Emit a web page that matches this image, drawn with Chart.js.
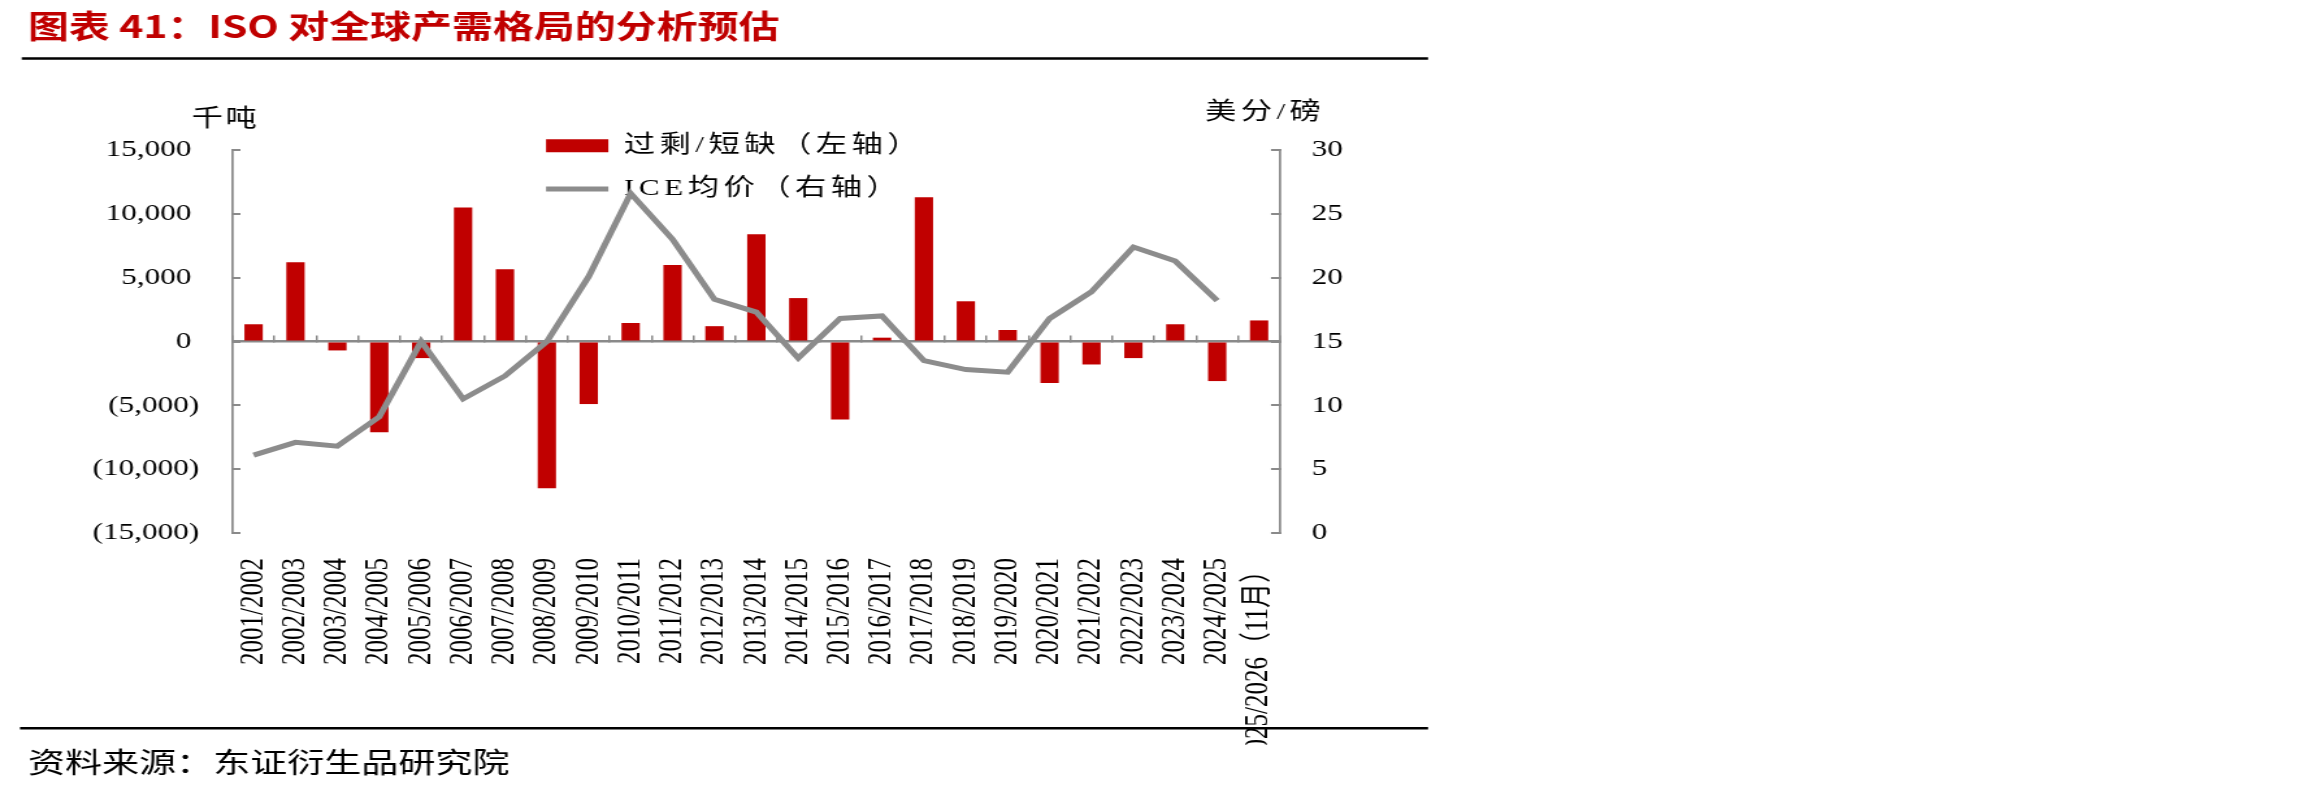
<!DOCTYPE html>
<html>
<head>
<meta charset="utf-8">
<script src="https://cdn.jsdelivr.net/npm/chart.js@4/dist/chart.umd.min.js"></script>
<style>
  body { margin: 0; background: #fff; }
  #chart { display: block; width: 2303px; height: 793px; }
</style>
</head>
<body>
<canvas id="chart" width="1772" height="793"></canvas>
<script>
// Data
const categories = [
  "2001/2002", "2002/2003", "2003/2004", "2004/2005", "2005/2006",
  "2006/2007", "2007/2008", "2008/2009", "2009/2010", "2010/2011",
  "2011/2012", "2012/2013", "2013/2014", "2014/2015", "2015/2016",
  "2016/2017", "2017/2018", "2018/2019", "2019/2020", "2020/2021",
  "2021/2022", "2022/2023", "2023/2024", "2024/2025", "2025/2026（11月）"
];
// 过剩/短缺, 千吨
const surplus = [
  1350, 6200, -700, -7100, -1300,
  10500, 5650, -11500, -4900, 1450,
  6000, 1200, 8400, 3400, -6100,
  300, 11300, 3150, 900, -3250,
  -1800, -1300, 1350, -3100, 1650
];
// ICE均价, 美分/磅
const icePrice = [
  6.1, 7.1, 6.8, 9.1, 15.0,
  10.5, 12.3, 15.0, 20.1, 26.6,
  23.0, 18.3, 17.3, 13.7, 16.8,
  17.0, 13.5, 12.8, 12.6, 16.8,
  18.9, 22.4, 21.3, 18.2, null
];
const leftRange = [-15000, 15000, 5000];
const rightRange = [0, 30, 5];

const RED = "#c00000";
const GREY = "#8c8c8c";
const AXIS = "#8a8a8a";

Chart.defaults.font.family = "'Liberation Serif', 'Noto Sans CJK SC', serif";
Chart.defaults.color = "#000";

// rules, unit labels, legend placement
const decor = {
  id: "decor",
  beforeDraw(chart) {
    const lg = chart.legend;
    lg.left = 400.8; lg.top = 114.4;
    lg.right = lg.left + 420; lg.bottom = lg.top + 300;
    if (!lg._spaced) {
      const drawLegend = lg.draw.bind(lg);
      lg.draw = function(area) {
        chart.ctx.save();
        chart.ctx.letterSpacing = "3.5px";
        drawLegend(area);
        chart.ctx.restore();
      };
      lg._spaced = true;
    }
  },
  afterDraw(chart) {
    const ctx = chart.ctx;
    ctx.save();
    ctx.strokeStyle = "#000";
    ctx.lineWidth = 2.5;
    ctx.beginPath();
    ctx.moveTo(16.7, 58.5); ctx.lineTo(1098.8, 58.5);
    ctx.moveTo(15.4, 728.3); ctx.lineTo(1098.8, 728.3);
    ctx.stroke();
    ctx.fillStyle = "#000";
    ctx.font = "24px 'Liberation Serif', 'Noto Sans CJK SC'";
    ctx.textBaseline = "middle";
    ctx.letterSpacing = "2px";
    ctx.fillText("千吨", 147.5, 120);
    ctx.letterSpacing = "3.5px";
    ctx.fillText("美分/磅", 927.2, 113);
    ctx.restore();
  }
};

const fmtLeft = function(v) {
  if (v < 0) return "(" + Math.abs(v).toLocaleString("en-US") + ")";
  return v.toLocaleString("en-US") + " ";
};

const chart = new Chart(document.getElementById("chart"), {
  type: "bar",
  data: {
    labels: categories,
    datasets: [{
      label: "过剩/短缺（左轴）",
      data: surplus,
      backgroundColor: RED,
      borderColor: RED,
      borderWidth: 0,
      barPercentage: 0.437,
      categoryPercentage: 1,
      xAxisID: "x",
      yAxisID: "y",
      order: 1
    }, {
      type: "line",
      label: "ICE均价（右轴）",
      data: icePrice,
      borderColor: GREY,
      backgroundColor: GREY,
      borderWidth: 5,
      pointRadius: 0,
      tension: 0,
      fill: false,
      xAxisID: "x",
      yAxisID: "y1",
      order: 0
    }]
  },
  options: {
    responsive: false,
    devicePixelRatio: 1,
    animation: false,
    events: [],
    layout: { padding: { left: 21.5, right: 0, top: 0, bottom: 0 } },
    plugins: {
      title: {
        display: true,
        text: "图表 41：ISO 对全球产需格局的分析预估",
        align: "start",
        color: RED,
        font: { family: "'Noto Sans CJK SC', sans-serif", size: 31.5, weight: "bold" },
        padding: { top: 7.6, bottom: 104.6 }
      },
      subtitle: {
        display: true,
        position: "bottom",
        text: "资料来源：东证衍生品研究院",
        align: "start",
        color: "#000",
        font: { family: "'Noto Sans CJK SC', sans-serif", size: 28.5 },
        padding: { top: 0, bottom: 14 }
      },
      legend: {
        position: "chartArea",
        align: "start",
        labels: {
          usePointStyle: true,
          pointStyleWidth: 48,
          boxHeight: 13,
          padding: 19.3,
          font: { size: 24 },
          generateLabels: function(c) {
            return c.data.datasets.map(function(ds, i) {
              const isLine = ds.type === "line";
              return {
                text: ds.label,
                fillStyle: isLine ? GREY : RED,
                strokeStyle: isLine ? GREY : RED,
                lineWidth: isLine ? 5 : 0,
                pointStyle: isLine ? "line" : "rect",
                fontColor: "#000",
                hidden: false,
                datasetIndex: i
              };
            });
          }
        }
      },
      tooltip: { enabled: false }
    },
    scales: {
      x: {
        axis: "x",
        type: "category",
        position: { y: 0 },
        offset: true,
        grid: {
          display: true,
          drawOnChartArea: false,
          drawTicks: true,
          tickLength: -7,
          color: AXIS,
          lineWidth: 1.5,
          offset: true
        },
        border: { display: true, color: AXIS, width: 2.5 },
        ticks: { display: false }
      },
      xl: {
        axis: "x",
        type: "category",
        position: "bottom",
        offset: true,
        grid: { display: false },
        border: { display: false },
        ticks: {
          autoSkip: false,
          minRotation: 90,
          maxRotation: 90,
          padding: 17,
          font: { size: 25 }
        },
        afterFit: function(s) { s.height = 793 - 533 - 48.2; }
      },
      y: {
        position: "left",
        min: leftRange[0],
        max: leftRange[1],
        grid: {
          drawOnChartArea: false,
          drawTicks: true,
          tickLength: -6,
          color: AXIS,
          lineWidth: 2
        },
        border: { display: true, color: AXIS, width: 1.75 },
        ticks: {
          stepSize: leftRange[2],
          padding: 31.7,
          font: { size: 24 },
          callback: fmtLeft
        },
        afterFit: function(s) { s.width = 157.5; }
      },
      y1: {
        position: "right",
        min: rightRange[0],
        max: rightRange[1],
        grid: {
          drawOnChartArea: false,
          drawTicks: true,
          tickLength: -7,
          color: AXIS,
          lineWidth: 2
        },
        border: { display: true, color: AXIS, width: 1.75 },
        ticks: {
          stepSize: rightRange[2],
          padding: 31.4,
          font: { size: 24 }
        },
        afterFit: function(s) { s.width = 1772 - 984.9; }
      }
    }
  },
  plugins: [decor]
});
chart.canvas.style.width = "2303px";
chart.canvas.style.height = "793px";
</script>
</body>
</html>
